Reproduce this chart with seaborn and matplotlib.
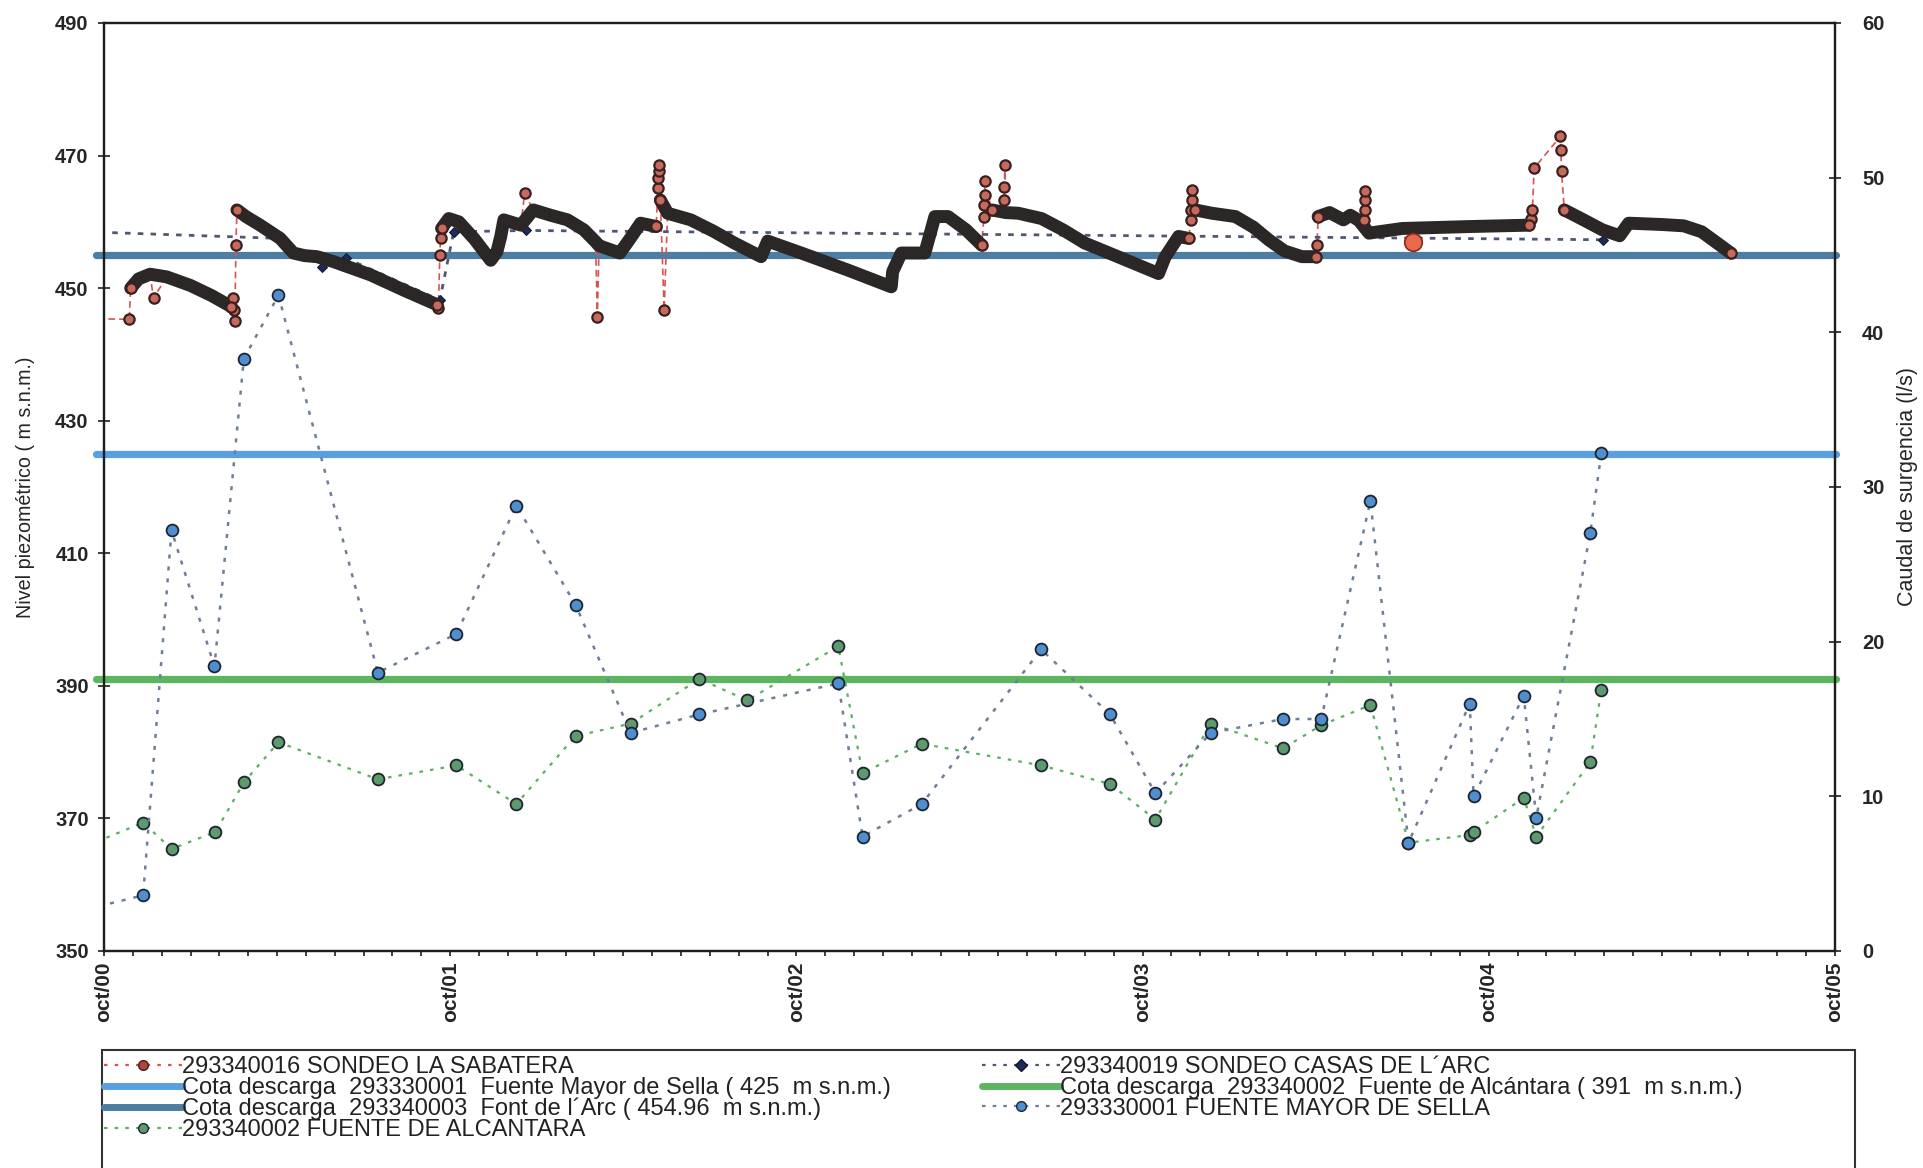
import matplotlib
matplotlib.use("Agg")
import matplotlib.pyplot as plt
import numpy as np
import pandas as pd
import seaborn as sns
from matplotlib.lines import Line2D
from matplotlib.patches import Rectangle

# ---------------------------------------------------------------------------
# Data (x in decimal years, October 2000 = 2000.75)
# ---------------------------------------------------------------------------
# 293340016 SONDEO LA SABATERA: level (m s.n.m.); segment -1 = spot reading,
# other ids = continuous logger record
sabatera_dates = [
    2000.700, 2000.823, 2000.827, 2000.850, 2000.883, 2000.893, 2000.931, 2001.000,
    2001.060, 2001.118, 2001.122, 2001.125, 2001.128, 2001.131, 2001.134, 2001.160,
    2001.201, 2001.259, 2001.297, 2001.330, 2001.365, 2001.413, 2001.520, 2001.620,
    2001.712, 2001.716, 2001.720, 2001.722, 2001.725, 2001.746, 2001.775, 2001.820,
    2001.867, 2001.885, 2001.896, 2001.905, 2001.954, 2001.965, 2001.990, 2002.040,
    2002.089, 2002.136, 2002.170, 2002.175, 2002.180, 2002.240, 2002.270, 2002.300,
    2002.345, 2002.350, 2002.351, 2002.352, 2002.353, 2002.357, 2002.368, 2002.378,
    2002.445, 2002.510, 2002.571, 2002.648, 2002.667, 2002.764, 2002.900, 2003.024,
    2003.028, 2003.053, 2003.121, 2003.150, 2003.188, 2003.240, 2003.285, 2003.292,
    2003.293, 2003.294, 2003.295, 2003.314, 2003.345, 2003.350, 2003.351, 2003.352,
    2003.355, 2003.391, 2003.458, 2003.520, 2003.583, 2003.690, 2003.796, 2003.815,
    2003.854, 2003.883, 2003.890, 2003.891, 2003.892, 2003.893, 2003.902, 2003.950,
    2004.018, 2004.070, 2004.114, 2004.160, 2004.210, 2004.250, 2004.254, 2004.257,
    2004.290, 2004.330, 2004.350, 2004.375, 2004.390, 2004.391, 2004.392, 2004.393,
    2004.404, 2004.500, 2004.700, 2004.866, 2004.872, 2004.876, 2004.881, 2004.957,
    2004.958, 2004.960, 2004.968, 2005.020, 2005.078, 2005.128, 2005.154, 2005.250,
    2005.313, 2005.365, 2005.449,
]
sabatera_levels = [
    445.4, 445.3, 450.0, 451.4, 452.1, 448.5, 451.7, 450.4,
    448.9, 447.2, 448.5, 446.7, 445.1, 456.5, 461.8, 460.8,
    459.5, 457.5, 455.3, 454.9, 454.75, 454.0, 452.0, 449.6,
    447.5, 447.0, 455.0, 457.6, 459.0, 460.5, 460.0, 457.4,
    454.2, 455.5, 457.8, 460.3, 459.5, 464.3, 461.8, 461.0,
    460.3, 458.8, 457.0, 445.7, 456.4, 455.3, 457.5, 459.8,
    459.3, 465.1, 466.6, 467.6, 468.6, 463.3, 446.7, 461.3,
    460.3, 458.6, 456.8, 454.75, 457.1, 455.3, 452.7, 450.2,
    452.5, 455.3, 455.3, 460.8, 460.8, 458.8, 456.5, 460.8,
    462.5, 464.1, 466.1, 461.8, 461.5, 463.3, 465.3, 468.6,
    461.4, 461.3, 460.5, 458.8, 456.8, 454.5, 452.2, 454.7,
    457.8, 457.5, 460.3, 461.8, 463.3, 464.8, 461.8, 461.3,
    460.8, 459.2, 457.3, 455.6, 454.75, 454.75, 456.5, 460.8,
    461.4, 460.3, 461.0, 460.2, 460.3, 461.8, 463.3, 464.6,
    458.3, 459.0, 459.3, 459.5, 460.5, 461.8, 468.1, 472.9,
    470.8, 467.6, 461.8, 460.4, 458.8, 457.9, 459.8, 459.6,
    459.4, 458.5, 455.3,
]
sabatera_segment = [
    -1, -1, 0, 0, 0, -1, 0, 0,
    0, 0, -1, -1, -1, -1, 1, 1,
    1, 1, 1, 1, 1, 1, 1, 1,
    1, -1, -1, -1, 2, 2, 2, 2,
    2, 2, 2, 2, 2, -1, 2, 2,
    2, 2, 2, -1, 2, 2, 2, 2,
    2, -1, -1, -1, -1, 3, -1, 3,
    3, 3, 3, 3, 3, 3, 3, 3,
    3, 3, 3, 3, 3, 3, 3, -1,
    -1, -1, -1, 4, 4, -1, -1, -1,
    4, 4, 4, 4, 4, 4, 4, 4,
    4, 4, -1, -1, -1, -1, 5, 5,
    5, 5, 5, 5, 5, 5, -1, 6,
    6, 6, 6, 6, -1, -1, -1, -1,
    6, 6, 6, 6, -1, -1, -1, -1,
    -1, -1, 7, 7, 7, 7, 7, 7,
    7, 7, 7,
]
sabatera_highlight_date = [2004.53]
sabatera_highlight_level = [457.0]

# 293340019 SONDEO CASAS DE L'ARC (m s.n.m.)
casas_dates = [2000.70, 2001.26, 2001.38, 2001.45, 2001.72, 2001.76, 2001.97, 2005.08]
casas_levels = [458.5, 457.5, 453.2, 454.5, 448.2, 458.5, 458.7, 457.3]

# 293330001 FUENTE MAYOR DE SELLA, flow (l/s)
sella_dates = [2000.700, 2000.863, 2000.945, 2001.069, 2001.154, 2001.254, 2001.541,
               2001.768, 2001.941, 2002.112, 2002.271, 2002.470, 2002.871, 2002.941,
               2003.112, 2003.457, 2003.656, 2003.787, 2003.947, 2004.156, 2004.266,
               2004.408, 2004.518, 2004.695, 2004.706, 2004.851, 2004.887, 2005.043,
               2005.075]
sella_flow = [2.7, 3.6, 27.2, 18.4, 38.3, 42.4, 18.0,
              20.5, 28.8, 22.4, 14.1, 15.3, 17.3, 7.4,
              9.5, 19.5, 15.3, 10.2, 14.1, 15.0, 15.0,
              29.1, 7.0, 16.0, 10.0, 16.5, 8.6, 27.0,
              32.2]

# 293340002 FUENTE DE ALCANTARA, flow (l/s)
alcantara_dates = [2000.700, 2000.863, 2000.945, 2001.072, 2001.154, 2001.254, 2001.541,
                   2001.768, 2001.941, 2002.112, 2002.271, 2002.470, 2002.608, 2002.871,
                   2002.941, 2003.112, 2003.457, 2003.656, 2003.787, 2003.947, 2004.156,
                   2004.266, 2004.408, 2004.518, 2004.695, 2004.706, 2004.851, 2004.887,
                   2005.043, 2005.075]
alcantara_flow = [6.8, 8.3, 6.6, 7.7, 10.9, 13.5, 11.1,
                  12.0, 9.5, 13.9, 14.7, 17.6, 16.2, 19.7,
                  11.5, 13.4, 12.0, 10.8, 8.5, 14.7, 13.1,
                  14.6, 15.9, 7.0, 7.5, 7.7, 9.9, 7.4,
                  12.2, 16.9]

# Discharge elevations of the springs (m s.n.m.)
cota_sella = 425.0
cota_alcantara = 391.0
cota_arc = 454.96

x_tick_positions = [2000.75, 2001.75, 2002.75, 2003.75, 2004.75, 2005.75]
x_tick_labels = ["oct/00", "oct/01", "oct/02", "oct/03", "oct/04", "oct/05"]
left_ticks = [350, 370, 390, 410, 430, 450, 470, 490]
right_ticks = [0, 10, 20, 30, 40, 50, 60]

labels = {
    "sabatera": "293340016 SONDEO LA SABATERA",
    "casas": "293340019 SONDEO CASAS DE L\u00b4ARC",
    "cota_sella": "Cota descarga  293330001  Fuente Mayor de Sella ( 425  m s.n.m.)",
    "cota_alcantara": "Cota descarga  293340002  Fuente de Alc\u00e1ntara ( 391  m s.n.m.)",
    "cota_arc": "Cota descarga  293340003  Font de l\u00b4Arc ( 454.96  m s.n.m.)",
    "sella": "293330001 FUENTE MAYOR DE SELLA",
    "alcantara": "293340002 FUENTE DE ALCANTARA",
}

# ---------------------------------------------------------------------------
# Styling
# ---------------------------------------------------------------------------
sns.set_theme(style="white")
plt.rcParams["font.family"] = ["Liberation Sans", "DejaVu Sans"]

C_BAND = "#2b2727"
C_SAB_FACE = "#c56a5c"
C_SAB_EDGE = "#3b2020"
C_SAB_LINE = "#d9534f"
C_CASAS_LINE = "#4f5872"
C_CASAS_FACE = "#1f2a5a"
C_SELLA_FACE = "#4f8fd0"
C_SELLA_LINE = "#6d7e98"
C_ALC_FACE = "#5f9a6c"
C_ALC_LINE = "#5ab060"
C_COTA_SELLA = "#59a0e2"
C_COTA_ALC = "#5cb65f"
C_COTA_ARC = "#4b7ea2"
C_MARK_EDGE = "#1d2530"

W, H = 1924, 1168
fig = plt.figure(figsize=(W / 100, H / 100), dpi=100)
fig.patch.set_facecolor("white")

ax_l, ax_r, ax_t, ax_b = 104, 1835, 23, 951
ax = fig.add_axes([ax_l / W, 1 - ax_b / H, (ax_r - ax_l) / W, (ax_b - ax_t) / H])
ax2 = ax.twinx()

# --- discharge elevation lines -------------------------------------------
cota_df = pd.DataFrame({
    "x": [2000.728, 2005.752] * 3,
    "y": [cota_sella] * 2 + [cota_alcantara] * 2 + [cota_arc] * 2,
    "which": ["sella"] * 2 + ["alcantara"] * 2 + ["arc"] * 2,
})
for key, col in [("sella", C_COTA_SELLA), ("alcantara", C_COTA_ALC), ("arc", C_COTA_ARC)]:
    sub = cota_df[cota_df["which"] == key]
    sns.lineplot(data=sub, x="x", y="y", ax=ax, color=col, lw=5.2,
                 estimator=None, sort=False, clip_on=False, zorder=2, legend=False)

# --- Sabatera -------------------------------------------------------------
sab = pd.DataFrame({"x": sabatera_dates, "y": sabatera_levels, "seg": sabatera_segment})
# thin dashed connector through every reading
sns.lineplot(data=sab, x="x", y="y", ax=ax, color=C_SAB_LINE, lw=1.2,
             linestyle=(0, (4, 2.5)), estimator=None, sort=False, zorder=3, legend=False)
# continuous logger record drawn as a dense band
band = sab[sab["seg"] >= 0]
sns.lineplot(data=band, x="x", y="y", units="seg", ax=ax, color=C_BAND, lw=9.3,
             estimator=None, sort=False, zorder=4, legend=False,
             solid_capstyle="round", solid_joinstyle="round")
# visible markers: spot readings and record ends
first_last = band.groupby("seg").nth([0, -1])
marks = pd.concat([sab[sab["seg"] < 0], first_last])
sns.scatterplot(data=marks, x="x", y="y", ax=ax, s=55, color=C_SAB_FACE,
                edgecolor=C_SAB_EDGE, linewidth=1.6, zorder=6, legend=False)
sns.scatterplot(x=sabatera_highlight_date, y=sabatera_highlight_level, ax=ax, s=160,
                color="#e8694c", edgecolor="#8a2a1a", linewidth=1.2, zorder=6, legend=False)

# --- Casas de l'Arc ------------------------------------------------------
sns.lineplot(x=casas_dates, y=casas_levels, ax=ax, color=C_CASAS_LINE, lw=2.0,
             linestyle=(0, (2, 2.6)), estimator=None, sort=False, zorder=3.5,
             marker="D", markersize=5, markerfacecolor=C_CASAS_FACE,
             markeredgecolor="#101830", legend=False)

# --- springs on the flow axis -------------------------------------------
sns.lineplot(x=alcantara_dates, y=alcantara_flow, ax=ax2, color=C_ALC_LINE, lw=1.6,
             linestyle=(0, (1.6, 3.2)), estimator=None, sort=False, zorder=3,
             marker="o", markersize=8.5, markerfacecolor=C_ALC_FACE,
             markeredgecolor=C_MARK_EDGE, markeredgewidth=1.3, legend=False)
sns.lineplot(x=sella_dates, y=sella_flow, ax=ax2, color=C_SELLA_LINE, lw=1.8,
             linestyle=(0, (1.6, 3.2)), estimator=None, sort=False, zorder=4,
             marker="o", markersize=8.5, markerfacecolor=C_SELLA_FACE,
             markeredgecolor=C_MARK_EDGE, markeredgewidth=1.3, legend=False)

# --- axes ------------------------------------------------------------------
TICK_FONT = 14.5
ax.set_xlim(2000.75, 2005.75)
ax.set_ylim(350, 490)
ax2.set_ylim(0, 60)
ax.set_xticks(x_tick_positions)
ax.set_xticklabels(x_tick_labels, rotation=90, fontsize=15, fontweight="bold")
ax.set_xticks(np.arange(2000.75, 2005.76, 1 / 12), minor=True)
ax.set_yticks(left_ticks)
ax.set_yticklabels([str(v) for v in left_ticks], fontsize=TICK_FONT, fontweight="bold")
ax2.set_yticks(right_ticks)
ax2.set_yticklabels([str(v) for v in right_ticks], fontsize=TICK_FONT, fontweight="bold")
ax.set_xlabel("")
ax.set_ylabel("Nivel piezom\u00e9trico ( m s.n.m.)", fontsize=14.2, va="center")
ax2.set_ylabel("Caudal de surgencia (l/s)", fontsize=15.5, va="center")
ax_w = ax_r - ax_l
ax.yaxis.set_label_coords((25 - ax_l) / ax_w, 0.5)
ax2.yaxis.set_label_coords((1908 - ax_l) / ax_w, 0.5)

for a in (ax, ax2):
    for sp in a.spines.values():
        sp.set_color("#1e1e1e")
        sp.set_linewidth(1.6)
ax.grid(False)
ax2.grid(False)
ax.tick_params(axis="x", which="both", direction="out", length=3.8, width=1.2,
               color="#1e1e1e", pad=3.5, bottom=True)
ax.tick_params(axis="y", direction="inout", length=9, width=1.2, color="#1e1e1e",
               pad=6.5, left=True)
ax2.tick_params(axis="y", direction="inout", length=9, width=1.2, color="#1e1e1e",
                pad=15, right=True)
ax.set_facecolor("white")
ax2.patch.set_visible(False)

# --- legend ----------------------------------------------------------------
def dotted_handle(line_col, face, edge, marker, ms):
    return Line2D([], [], color=line_col, lw=1.6, linestyle=(0, (1.6, 3.2)),
                  marker=marker, markersize=ms, markerfacecolor=face, markeredgecolor=edge)

h_sab = dotted_handle(C_SAB_LINE, "#b0453a", C_SAB_EDGE, "o", 7)
h_casas = dotted_handle(C_CASAS_LINE, C_CASAS_FACE, "#101830", "D", 6)
h_sella = dotted_handle(C_SELLA_LINE, C_SELLA_FACE, C_MARK_EDGE, "o", 7)
h_alc = dotted_handle(C_ALC_LINE, C_ALC_FACE, C_MARK_EDGE, "o", 7)
h_cs = Line2D([], [], color=C_COTA_SELLA, lw=5)
h_ca = Line2D([], [], color=C_COTA_ALC, lw=5)
h_arc = Line2D([], [], color=C_COTA_ARC, lw=5)

leg_font = {"family": ["Liberation Sans", "DejaVu Sans"], "size": 17}
leg_kw = dict(loc="upper left", bbox_transform=fig.transFigure, frameon=False,
              borderpad=0, borderaxespad=0, handlelength=3.3, handletextpad=0.0,
              labelspacing=-0.05, prop=leg_font)
leg1 = fig.legend([h_sab, h_cs, h_arc, h_alc],
                  [labels["sabatera"], labels["cota_sella"], labels["cota_arc"], labels["alcantara"]],
                  bbox_to_anchor=(104 / W, 1 - 1056 / H), **leg_kw)
leg2 = fig.legend([h_casas, h_ca, h_sella],
                  [labels["casas"], labels["cota_alcantara"], labels["sella"]],
                  bbox_to_anchor=(982 / W, 1 - 1056 / H), **leg_kw)
for lg in (leg1, leg2):
    for t in lg.get_texts():
        t.set_color("#222222")

fig.patches.append(Rectangle((102 / W, 1 - 1180 / H), (1855 - 102) / W, (1180 - 1050) / H,
                             transform=fig.transFigure, fill=False, edgecolor="#333333",
                             lw=1.5, zorder=1))

fig.savefig("out.png", dpi=100, facecolor="white")
